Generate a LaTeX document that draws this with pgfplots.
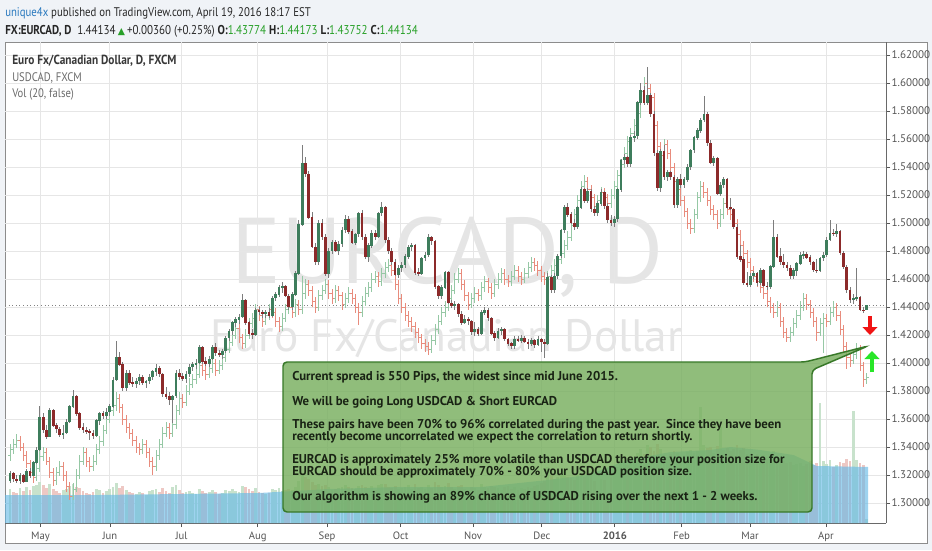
\documentclass[border=0pt]{standalone}
\usepackage{pgfplots}
\pgfplotsset{compat=1.18}
\usepackage{pgfplotstable}
\usepackage{fontspec}
\usetikzlibrary{arrows.meta}
\setmainfont{PT Sans}
\newfontfamily\narrowfont[FakeStretch=0.86]{PT Sans}
\newfontfamily\symfont{DejaVu Sans}

\definecolor{bg}{RGB}{240,243,247}
\definecolor{framegray}{RGB}{140,140,140}
\definecolor{axisgray}{RGB}{105,105,105}
\definecolor{gridgray}{RGB}{230,230,230}
\definecolor{tickgray}{RGB}{85,85,85}
\definecolor{cgreen}{RGB}{62,125,92}
\definecolor{cred}{RGB}{140,42,42}
\definecolor{wick}{RGB}{125,125,125}
\definecolor{usup}{RGB}{150,200,165}
\definecolor{usdn}{RGB}{232,140,125}
\definecolor{volup}{RGB}{200,226,204}
\definecolor{voldn}{RGB}{238,200,196}
\definecolor{volblue}{RGB}{100,185,230}
\definecolor{boxfill}{RGB}{120,175,95}
\definecolor{boxedge}{RGB}{55,120,40}
\definecolor{boxtext}{RGB}{25,35,20}
\definecolor{headblue}{RGB}{40,120,190}
\definecolor{valgreen}{RGB}{40,160,40}
\definecolor{wm}{RGB}{229,229,229}
\definecolor{dotgray}{RGB}{130,130,130}
\definecolor{arrred}{RGB}{240,20,20}
\definecolor{arrgreen}{RGB}{40,230,40}

% EURCAD daily candles: trading day index, open, high, low, close, volume (tens of px)
\pgfplotstableread{
i o h l c v
0 1.3160 1.3230 1.3140 1.3210 3.4
1 1.3210 1.3225 1.3150 1.3170 3.1
2 1.3170 1.3200 1.3140 1.3160 3.0
3 1.3160 1.3215 1.3135 1.3200 3.5
4 1.3200 1.3210 1.3140 1.3155 3.2
5 1.3155 1.3240 1.3150 1.3230 3.6
6 1.3230 1.3250 1.3180 1.3195 3.3
7 1.3195 1.3300 1.3190 1.3290 3.7
8 1.3290 1.3400 1.3280 1.3380 3.8
9 1.3380 1.3690 1.3370 1.3610 4.1
10 1.3610 1.3640 1.3500 1.3520 3.8
11 1.3520 1.3560 1.3460 1.3475 3.5
12 1.3475 1.3680 1.3470 1.3660 3.9
13 1.3660 1.3670 1.3540 1.3555 3.4
14 1.3555 1.3570 1.3500 1.3530 3.2
15 1.3530 1.3545 1.3470 1.3490 3.0
16 1.3490 1.3560 1.3460 1.3500 3.3
17 1.3500 1.3600 1.3490 1.3580 3.4
18 1.3580 1.3700 1.3570 1.3690 3.7
19 1.3690 1.3810 1.3680 1.3760 3.9
20 1.3760 1.3775 1.3620 1.3640 3.6
21 1.3640 1.3650 1.3520 1.3540 3.5
22 1.3540 1.3570 1.3500 1.3520 3.2
23 1.3520 1.3540 1.3490 1.3510 3.0
24 1.3510 1.3530 1.3450 1.3500 2.9
25 1.3500 1.3520 1.3460 1.3480 3.1
26 1.3480 1.3600 1.3470 1.3590 3.4
27 1.3590 1.3650 1.3560 1.3640 3.3
28 1.3640 1.3660 1.3600 1.3620 3.0
29 1.3620 1.3680 1.3600 1.3650 3.2
30 1.3650 1.3710 1.3620 1.3690 3.4
31 1.3690 1.3900 1.3680 1.3880 3.6
32 1.3880 1.4160 1.3870 1.4040 4.0
33 1.4040 1.4080 1.3980 1.3990 3.5
34 1.3990 1.4010 1.3800 1.3820 3.7
35 1.3820 1.3950 1.3800 1.3930 3.3
36 1.3930 1.3950 1.3840 1.3860 3.1
37 1.3860 1.3900 1.3830 1.3850 3.0
38 1.3850 1.3890 1.3820 1.3870 2.9
39 1.3870 1.3920 1.3840 1.3900 3.1
40 1.3900 1.3915 1.3840 1.3860 3.0
41 1.3860 1.3880 1.3820 1.3870 2.8
42 1.3870 1.3920 1.3850 1.3900 3.2
43 1.3900 1.3950 1.3880 1.3940 3.3
44 1.3940 1.3990 1.3910 1.3960 3.4
45 1.3960 1.3980 1.3900 1.3920 3.1
46 1.3920 1.3930 1.3760 1.3780 3.5
47 1.3780 1.3830 1.3740 1.3760 3.2
48 1.3760 1.3790 1.3700 1.3740 3.0
49 1.3740 1.3770 1.3570 1.3765 3.6
50 1.3765 1.3950 1.3750 1.3930 3.8
51 1.3930 1.3960 1.3880 1.3905 3.3
52 1.3905 1.3930 1.3870 1.3890 3.0
53 1.3890 1.3940 1.3860 1.3920 3.1
54 1.3920 1.3990 1.3900 1.3970 3.2
55 1.3970 1.4010 1.3940 1.3990 3.0
56 1.3990 1.4030 1.3960 1.4000 2.9
57 1.4000 1.4130 1.3990 1.4110 3.4
58 1.4110 1.4120 1.3990 1.4010 3.2
59 1.4010 1.4040 1.3980 1.3995 3.0
60 1.3995 1.4050 1.3970 1.4030 3.1
61 1.4030 1.4130 1.4020 1.4110 3.3
62 1.4110 1.4140 1.4050 1.4070 3.1
63 1.4070 1.4090 1.4040 1.4060 2.9
64 1.4060 1.4100 1.4030 1.4085 3.0
65 1.4085 1.4190 1.4070 1.4180 3.3
66 1.4180 1.4240 1.4160 1.4230 3.2
67 1.4230 1.4300 1.4200 1.4290 3.4
68 1.4290 1.4330 1.4260 1.4310 3.2
69 1.4310 1.4350 1.4280 1.4330 3.1
70 1.4330 1.4490 1.4320 1.4450 3.7
71 1.4450 1.4460 1.4270 1.4290 3.6
72 1.4290 1.4300 1.4190 1.4210 3.4
73 1.4210 1.4240 1.4170 1.4200 3.2
74 1.4200 1.4390 1.4190 1.4375 3.5
75 1.4375 1.4400 1.4340 1.4365 3.1
76 1.4365 1.4380 1.4320 1.4350 3.0
77 1.4350 1.4380 1.4320 1.4365 2.9
78 1.4365 1.4390 1.4320 1.4340 3.0
79 1.4340 1.4480 1.4330 1.4465 3.4
80 1.4465 1.4510 1.4440 1.4490 3.3
81 1.4490 1.4560 1.4470 1.4540 3.5
82 1.4540 1.4580 1.4500 1.4550 3.2
83 1.4550 1.4560 1.4470 1.4480 3.3
84 1.4480 1.4490 1.4380 1.4400 3.4
85 1.4400 1.4510 1.4380 1.4490 3.3
86 1.4490 1.4660 1.4480 1.4640 3.6
87 1.4640 1.5020 1.4630 1.4990 4.2
88 1.4990 1.5560 1.4980 1.5430 4.9
89 1.5430 1.5470 1.5330 1.5350 4.6
90 1.5350 1.5370 1.5030 1.5040 4.4
91 1.5040 1.5080 1.4820 1.4830 4.1
92 1.4830 1.4860 1.4700 1.4720 3.8
93 1.4720 1.5020 1.4700 1.5000 3.9
94 1.5000 1.5030 1.4880 1.4900 3.7
95 1.4900 1.4920 1.4620 1.4640 3.8
96 1.4640 1.4820 1.4610 1.4800 3.6
97 1.4800 1.4880 1.4780 1.4860 3.3
98 1.4860 1.4880 1.4790 1.4800 3.4
99 1.4800 1.4870 1.4770 1.4850 3.5
100 1.4850 1.4970 1.4830 1.4950 3.6
101 1.4950 1.5060 1.4930 1.5030 3.8
102 1.5030 1.5050 1.4920 1.4940 3.6
103 1.4940 1.4960 1.4850 1.4860 3.5
104 1.4860 1.4930 1.4840 1.4920 3.4
105 1.4920 1.5080 1.4900 1.5070 3.7
106 1.5070 1.5090 1.4880 1.4900 3.8
107 1.4900 1.4920 1.4740 1.4760 3.6
108 1.4760 1.4860 1.4720 1.4840 3.5
109 1.4840 1.4950 1.4820 1.4930 3.7
110 1.4930 1.4950 1.4880 1.4900 3.3
111 1.4900 1.5080 1.4890 1.5070 3.8
112 1.5070 1.5150 1.5050 1.5110 3.9
113 1.5110 1.5120 1.4860 1.4880 3.9
114 1.4880 1.4900 1.4780 1.4800 3.6
115 1.4800 1.4820 1.4700 1.4720 3.5
116 1.4720 1.4740 1.4620 1.4630 3.7
117 1.4630 1.4700 1.4610 1.4680 3.4
118 1.4680 1.4720 1.4650 1.4700 3.5
119 1.4700 1.4780 1.4680 1.4760 3.6
120 1.4760 1.4840 1.4740 1.4830 3.8
121 1.4830 1.4860 1.4800 1.4840 3.4
122 1.4840 1.4850 1.4630 1.4645 3.9
123 1.4645 1.4680 1.4620 1.4640 3.5
124 1.4640 1.4760 1.4630 1.4750 3.6
125 1.4750 1.4790 1.4730 1.4770 3.4
126 1.4770 1.4920 1.4760 1.4900 3.8
127 1.4900 1.4910 1.4840 1.4870 3.5
128 1.4870 1.4880 1.4530 1.4545 4.1
129 1.4545 1.4560 1.4460 1.4480 3.8
130 1.4480 1.4560 1.4460 1.4540 3.6
131 1.4540 1.4660 1.4530 1.4650 3.7
132 1.4650 1.4660 1.4420 1.4430 4.0
133 1.4430 1.4450 1.4390 1.4410 3.6
134 1.4410 1.4440 1.4380 1.4420 3.4
135 1.4420 1.4430 1.4330 1.4350 3.7
136 1.4350 1.4370 1.4270 1.4290 3.8
137 1.4290 1.4340 1.4280 1.4310 3.4
138 1.4310 1.4330 1.4270 1.4300 3.3
139 1.4300 1.4310 1.4200 1.4220 3.6
140 1.4220 1.4290 1.4190 1.4240 3.5
141 1.4240 1.4260 1.4190 1.4210 3.3
142 1.4210 1.4380 1.4200 1.4360 3.9
143 1.4360 1.4400 1.4340 1.4380 3.6
144 1.4380 1.4390 1.4300 1.4320 3.5
145 1.4320 1.4330 1.4200 1.4210 3.7
146 1.4210 1.4230 1.4160 1.4180 3.6
147 1.4180 1.4250 1.4170 1.4230 3.5
148 1.4230 1.4260 1.4200 1.4240 3.3
149 1.4240 1.4250 1.4160 1.4170 3.6
150 1.4170 1.4180 1.4120 1.4140 3.7
151 1.4140 1.4150 1.4100 1.4120 3.4
152 1.4120 1.4190 1.4100 1.4170 3.6
153 1.4170 1.4190 1.4150 1.4160 3.3
154 1.4160 1.4200 1.4140 1.4180 3.5
155 1.4180 1.4190 1.4140 1.4150 3.4
156 1.4150 1.4170 1.4100 1.4135 3.6
157 1.4135 1.4180 1.4120 1.4160 3.5
158 1.4160 1.4170 1.4110 1.4130 3.7
159 1.4130 1.4190 1.4120 1.4170 3.8
160 1.4170 1.4180 1.4080 1.4150 4.0
161 1.4150 1.4170 1.4036 1.4140 4.2
162 1.4140 1.4640 1.4130 1.4610 5.6
163 1.4610 1.4630 1.4500 1.4520 4.8
164 1.4520 1.4640 1.4500 1.4620 4.4
165 1.4620 1.4780 1.4600 1.4765 4.6
166 1.4765 1.4960 1.4750 1.4950 4.9
167 1.4950 1.5130 1.4930 1.5110 5.2
168 1.5110 1.5140 1.5040 1.5060 4.6
169 1.5060 1.5080 1.4990 1.5000 4.5
170 1.5000 1.5030 1.4950 1.4970 4.3
171 1.4970 1.5120 1.4960 1.5110 4.8
172 1.5110 1.5260 1.5100 1.5240 5.0
173 1.5240 1.5250 1.5140 1.5160 4.6
174 1.5160 1.5250 1.5140 1.5230 4.7
175 1.5230 1.5240 1.5080 1.5100 4.9
176 1.5100 1.5120 1.5050 1.5070 4.2
177 1.5070 1.5160 1.5050 1.5140 3.1
178 1.5140 1.5240 1.5120 1.5220 4.4
179 1.5220 1.5230 1.5100 1.5120 4.3
180 1.5120 1.5140 1.5000 1.5020 2.6
181 1.5020 1.5060 1.4980 1.5000 4.6
182 1.5000 1.5050 1.4970 1.5030 5.2
183 1.5030 1.5250 1.5010 1.5240 5.6
184 1.5240 1.5460 1.5220 1.5450 6.3
185 1.5450 1.5490 1.5420 1.5470 6.0
186 1.5470 1.5480 1.5400 1.5420 5.8
187 1.5420 1.5630 1.5400 1.5610 6.6
188 1.5610 1.5660 1.5580 1.5620 6.2
189 1.5620 1.5870 1.5600 1.5860 7.0
190 1.5860 1.6000 1.5840 1.5950 7.4
191 1.5950 1.5980 1.5840 1.5860 6.9
192 1.5860 1.6114 1.5840 1.5910 7.8
193 1.5910 1.5930 1.5760 1.5780 7.6
194 1.5780 1.5800 1.5480 1.5500 7.2
195 1.5500 1.5520 1.5230 1.5250 7.9
196 1.5250 1.5530 1.5220 1.5510 7.4
197 1.5510 1.5560 1.5310 1.5330 6.8
198 1.5330 1.5380 1.5300 1.5360 6.6
199 1.5360 1.5370 1.5310 1.5330 6.9
200 1.5330 1.5340 1.5110 1.5130 7.2
201 1.5130 1.5330 1.5110 1.5310 7.0
202 1.5310 1.5350 1.5250 1.5270 6.7
203 1.5270 1.5330 1.5250 1.5310 6.8
204 1.5310 1.5420 1.5290 1.5400 7.1
205 1.5400 1.5530 1.5380 1.5520 7.3
206 1.5520 1.5620 1.5500 1.5610 7.0
207 1.5610 1.5680 1.5590 1.5660 7.2
208 1.5660 1.5750 1.5640 1.5735 11.6
209 1.5735 1.5910 1.5720 1.5780 7.8
210 1.5780 1.5790 1.5550 1.5570 7.5
211 1.5570 1.5590 1.5420 1.5430 7.6
212 1.5430 1.5480 1.5410 1.5460 7.0
213 1.5460 1.5470 1.5200 1.5210 7.7
214 1.5210 1.5290 1.5190 1.5270 9.6
215 1.5270 1.5330 1.5250 1.5310 7.3
216 1.5310 1.5320 1.5100 1.5110 7.5
217 1.5110 1.5180 1.5090 1.5100 7.2
218 1.5100 1.5110 1.4960 1.4970 7.4
219 1.4970 1.4990 1.4740 1.4760 7.8
220 1.4760 1.4840 1.4720 1.4740 7.3
221 1.4740 1.4760 1.4560 1.4570 7.5
222 1.4570 1.4650 1.4540 1.4560 6.9
223 1.4560 1.4640 1.4540 1.4620 6.8
224 1.4620 1.4660 1.4600 1.4640 6.6
225 1.4640 1.4650 1.4550 1.4570 6.9
226 1.4570 1.4680 1.4560 1.4660 6.5
227 1.4660 1.4670 1.4540 1.4550 6.8
228 1.4550 1.4580 1.4520 1.4545 6.4
229 1.4545 1.4700 1.4530 1.4690 6.7
230 1.4690 1.5020 1.4680 1.4900 7.2
231 1.4900 1.4920 1.4750 1.4760 6.6
232 1.4760 1.4820 1.4700 1.4720 6.3
233 1.4720 1.4780 1.4680 1.4700 6.2
234 1.4700 1.4720 1.4660 1.4680 6.0
235 1.4680 1.4700 1.4600 1.4620 6.1
236 1.4620 1.4680 1.4600 1.4660 5.8
237 1.4660 1.4720 1.4620 1.4710 5.9
238 1.4710 1.4790 1.4700 1.4770 6.0
239 1.4770 1.4800 1.4740 1.4780 5.7
240 1.4780 1.4790 1.4740 1.4755 5.9
241 1.4755 1.4770 1.4700 1.4720 6.2
242 1.4720 1.4730 1.4650 1.4665 5.8
243 1.4665 1.4740 1.4640 1.4660 6.0
244 1.4660 1.4760 1.4650 1.4750 12.0
245 1.4750 1.4790 1.4730 1.4770 6.2
246 1.4770 1.4900 1.4760 1.4880 5.9
247 1.4880 1.5020 1.4870 1.4930 6.3
248 1.4930 1.4960 1.4910 1.4925 5.6
249 1.4925 1.4990 1.4900 1.4940 5.8
250 1.4940 1.4950 1.4770 1.4785 6.1
251 1.4785 1.4800 1.4670 1.4685 6.0
252 1.4685 1.4700 1.4500 1.4520 6.4
253 1.4520 1.4540 1.4430 1.4450 6.2
254 1.4450 1.4490 1.4420 1.4460 11.2
255 1.4460 1.4680 1.4440 1.4470 6.3
256 1.4470 1.4480 1.4370 1.4380 6.0
257 1.4380 1.4400 1.4360 1.4377 5.8
258 1.43774 1.44173 1.43752 1.44134 0.4
}\eurcad

% USDCAD overlay bars, read off in the price scale of the chart
\pgfplotstableread{
i o h l c
0 1.334 1.342 1.330 1.338
1 1.338 1.346 1.335 1.342
2 1.342 1.349 1.339 1.345
3 1.345 1.348 1.337 1.340
4 1.340 1.343 1.330 1.334
5 1.334 1.337 1.325 1.328
6 1.328 1.331 1.318 1.322
7 1.322 1.326 1.314 1.318
8 1.318 1.329 1.316 1.325
9 1.325 1.337 1.322 1.333
10 1.333 1.340 1.330 1.336
11 1.336 1.339 1.327 1.330
12 1.330 1.333 1.318 1.322
13 1.322 1.325 1.312 1.316
14 1.316 1.326 1.313 1.322
15 1.322 1.330 1.319 1.326
16 1.326 1.329 1.316 1.320
17 1.320 1.323 1.308 1.312
18 1.312 1.315 1.302 1.305
19 1.305 1.314 1.302 1.310
20 1.310 1.324 1.308 1.320
21 1.320 1.334 1.317 1.330
22 1.330 1.340 1.327 1.336
23 1.336 1.339 1.326 1.330
24 1.330 1.333 1.322 1.326
25 1.326 1.334 1.323 1.330
26 1.330 1.342 1.327 1.338
27 1.338 1.348 1.335 1.344
28 1.344 1.356 1.341 1.352
29 1.352 1.364 1.349 1.360
30 1.360 1.370 1.357 1.366
31 1.366 1.374 1.362 1.370
32 1.370 1.379 1.366 1.375
33 1.375 1.378 1.364 1.368
34 1.368 1.371 1.356 1.360
35 1.360 1.363 1.350 1.354
36 1.354 1.357 1.346 1.350
37 1.350 1.353 1.341 1.345
38 1.345 1.348 1.336 1.340
39 1.340 1.343 1.334 1.338
40 1.338 1.346 1.335 1.342
41 1.342 1.345 1.332 1.336
42 1.336 1.339 1.326 1.330
43 1.330 1.333 1.320 1.326
44 1.326 1.338 1.323 1.334
45 1.334 1.346 1.331 1.342
46 1.342 1.354 1.339 1.350
47 1.350 1.358 1.347 1.354
48 1.354 1.357 1.346 1.350
49 1.350 1.360 1.347 1.356
50 1.356 1.370 1.353 1.366
51 1.366 1.379 1.363 1.375
52 1.375 1.378 1.368 1.372
53 1.372 1.384 1.369 1.380
54 1.380 1.389 1.377 1.385
55 1.385 1.392 1.382 1.388
56 1.388 1.396 1.385 1.392
57 1.392 1.402 1.389 1.398
58 1.398 1.401 1.391 1.395
59 1.395 1.398 1.388 1.392
60 1.392 1.400 1.389 1.396
61 1.396 1.404 1.393 1.400
62 1.400 1.403 1.391 1.395
63 1.395 1.402 1.392 1.398
64 1.398 1.408 1.395 1.404
65 1.404 1.414 1.401 1.410
66 1.410 1.419 1.407 1.415
67 1.415 1.424 1.412 1.420
68 1.420 1.429 1.417 1.425
69 1.425 1.428 1.414 1.418
70 1.418 1.421 1.410 1.414
71 1.414 1.424 1.411 1.420
72 1.420 1.432 1.417 1.428
73 1.428 1.436 1.425 1.432
74 1.432 1.442 1.429 1.438
75 1.438 1.441 1.430 1.434
76 1.434 1.437 1.426 1.430
77 1.430 1.438 1.427 1.434
78 1.434 1.442 1.431 1.438
79 1.438 1.441 1.432 1.436
80 1.436 1.439 1.426 1.430
81 1.430 1.433 1.422 1.426
82 1.426 1.436 1.423 1.432
83 1.432 1.442 1.429 1.438
84 1.438 1.444 1.435 1.440
85 1.440 1.443 1.432 1.436
86 1.436 1.446 1.433 1.442
87 1.442 1.445 1.434 1.438
88 1.438 1.462 1.435 1.450
89 1.450 1.460 1.446 1.456
90 1.456 1.459 1.448 1.452
91 1.452 1.455 1.440 1.444
92 1.444 1.447 1.436 1.440
93 1.440 1.452 1.437 1.448
94 1.448 1.456 1.445 1.452
95 1.452 1.460 1.449 1.456
96 1.456 1.459 1.446 1.450
97 1.450 1.453 1.442 1.446
98 1.446 1.456 1.443 1.452
99 1.452 1.455 1.444 1.448
100 1.448 1.451 1.438 1.442
101 1.442 1.450 1.439 1.446
102 1.446 1.454 1.443 1.450
103 1.450 1.453 1.442 1.446
104 1.446 1.449 1.436 1.440
105 1.440 1.443 1.427 1.436
106 1.436 1.448 1.433 1.444
107 1.444 1.454 1.441 1.450
108 1.450 1.458 1.447 1.454
109 1.454 1.464 1.451 1.460
110 1.460 1.466 1.457 1.462
111 1.462 1.465 1.454 1.458
112 1.458 1.468 1.455 1.464
113 1.464 1.472 1.461 1.468
114 1.468 1.474 1.465 1.470
115 1.470 1.473 1.462 1.466
116 1.466 1.469 1.452 1.456
117 1.456 1.459 1.442 1.446
118 1.446 1.449 1.436 1.440
119 1.440 1.443 1.430 1.434
120 1.434 1.437 1.426 1.430
121 1.430 1.433 1.422 1.426
122 1.426 1.429 1.418 1.422
123 1.422 1.425 1.414 1.418
124 1.418 1.421 1.410 1.414
125 1.414 1.417 1.408 1.412
126 1.412 1.415 1.406 1.410
127 1.410 1.420 1.407 1.416
128 1.416 1.428 1.413 1.424
129 1.424 1.434 1.421 1.430
130 1.430 1.440 1.427 1.436
131 1.436 1.444 1.433 1.440
132 1.440 1.450 1.437 1.446
133 1.446 1.456 1.443 1.452
134 1.452 1.464 1.449 1.460
135 1.460 1.468 1.457 1.464
136 1.464 1.467 1.452 1.456
137 1.456 1.459 1.444 1.448
138 1.448 1.451 1.438 1.442
139 1.442 1.450 1.439 1.446
140 1.446 1.454 1.443 1.450
141 1.450 1.453 1.444 1.448
142 1.448 1.458 1.445 1.454
143 1.454 1.462 1.451 1.458
144 1.458 1.461 1.450 1.454
145 1.454 1.457 1.446 1.450
146 1.450 1.460 1.447 1.456
147 1.456 1.464 1.453 1.460
148 1.460 1.468 1.457 1.464
149 1.464 1.467 1.456 1.460
150 1.460 1.463 1.454 1.458
151 1.458 1.466 1.455 1.462
152 1.462 1.470 1.459 1.466
153 1.466 1.469 1.458 1.462
154 1.462 1.465 1.456 1.460
155 1.460 1.468 1.457 1.464
156 1.464 1.472 1.461 1.468
157 1.468 1.476 1.465 1.472
158 1.472 1.475 1.466 1.470
159 1.470 1.473 1.462 1.466
160 1.466 1.469 1.458 1.462
161 1.462 1.465 1.456 1.460
162 1.460 1.466 1.452 1.462
163 1.462 1.470 1.459 1.466
164 1.466 1.474 1.463 1.470
165 1.470 1.478 1.467 1.474
166 1.474 1.482 1.471 1.478
167 1.478 1.488 1.475 1.484
168 1.484 1.494 1.481 1.490
169 1.490 1.502 1.487 1.498
170 1.498 1.510 1.495 1.506
171 1.506 1.520 1.503 1.516
172 1.516 1.530 1.513 1.526
173 1.526 1.534 1.523 1.530
174 1.530 1.533 1.520 1.524
175 1.524 1.527 1.514 1.518
176 1.518 1.521 1.508 1.512
177 1.512 1.520 1.509 1.516
178 1.516 1.526 1.513 1.522
179 1.522 1.525 1.514 1.518
180 1.518 1.521 1.510 1.514
181 1.514 1.524 1.511 1.520
182 1.520 1.530 1.517 1.526
183 1.526 1.538 1.523 1.534
184 1.534 1.546 1.531 1.542
185 1.542 1.554 1.539 1.550
186 1.550 1.562 1.547 1.558
187 1.558 1.568 1.555 1.564
188 1.564 1.574 1.561 1.570
189 1.570 1.582 1.567 1.578
190 1.578 1.598 1.575 1.594
191 1.594 1.604 1.591 1.600
192 1.600 1.603 1.592 1.596
193 1.596 1.599 1.586 1.590
194 1.590 1.593 1.566 1.570
195 1.570 1.573 1.551 1.555
196 1.555 1.558 1.544 1.548
197 1.548 1.560 1.545 1.556
198 1.556 1.559 1.546 1.550
199 1.550 1.553 1.536 1.540
200 1.540 1.543 1.526 1.530
201 1.530 1.533 1.520 1.524
202 1.524 1.527 1.512 1.516
203 1.516 1.519 1.504 1.508
204 1.508 1.511 1.496 1.500
205 1.500 1.503 1.492 1.496
206 1.496 1.510 1.493 1.506
207 1.506 1.522 1.503 1.518
208 1.518 1.530 1.515 1.526
209 1.526 1.529 1.518 1.522
210 1.522 1.525 1.512 1.516
211 1.516 1.519 1.506 1.510
212 1.510 1.513 1.502 1.506
213 1.506 1.509 1.496 1.500
214 1.500 1.510 1.497 1.506
215 1.506 1.518 1.503 1.514
216 1.514 1.517 1.506 1.510
217 1.510 1.513 1.502 1.506
218 1.506 1.509 1.496 1.500
219 1.500 1.503 1.488 1.492
220 1.492 1.495 1.480 1.484
221 1.484 1.487 1.474 1.478
222 1.478 1.481 1.468 1.472
223 1.472 1.475 1.462 1.466
224 1.466 1.469 1.458 1.462
225 1.462 1.465 1.454 1.458
226 1.458 1.461 1.450 1.454
227 1.454 1.457 1.446 1.450
228 1.450 1.453 1.440 1.444
229 1.444 1.447 1.436 1.440
230 1.440 1.443 1.432 1.436
231 1.436 1.444 1.433 1.440
232 1.440 1.443 1.426 1.430
233 1.430 1.433 1.418 1.422
234 1.422 1.425 1.415 1.418
235 1.418 1.426 1.415 1.422
236 1.422 1.432 1.419 1.428
237 1.428 1.438 1.425 1.434
238 1.434 1.444 1.431 1.440
239 1.440 1.450 1.437 1.446
240 1.446 1.449 1.438 1.442
241 1.442 1.445 1.432 1.436
242 1.436 1.439 1.426 1.430
243 1.430 1.433 1.416 1.422
244 1.422 1.432 1.419 1.428
245 1.428 1.436 1.407 1.432
246 1.432 1.435 1.426 1.430
247 1.430 1.440 1.427 1.436
248 1.436 1.444 1.433 1.440
249 1.440 1.443 1.430 1.434
250 1.434 1.437 1.420 1.424
251 1.424 1.427 1.408 1.412
252 1.412 1.415 1.396 1.404
253 1.404 1.407 1.397 1.402
254 1.402 1.410 1.399 1.406
255 1.406 1.414 1.403 1.410
256 1.410 1.413 1.394 1.398
257 1.398 1.401 1.383 1.388
258 1.388 1.393 1.385 1.390
}\usdcad

% 20-day volume average, read at a few points
\pgfplotstableread{
i m
-1.5 2.8
27 2.8
51 2.9
75 3.0
96 3.4
117 3.6
142 3.6
162 4.3
174 4.8
186 6.3
199 7.1
211 7.3
217 7.6
226 7.3
236 6.8
243 5.7
258.5 5.6
}\volma

\pgfplotsset{
  base/.style={at={(3.75pt,-392.25pt)}, anchor=south west, scale only axis,
    width=660.75pt, height=360.75pt, xmin=-1.5, xmax=263.86},
  price/.style={base, ymin=1.28571, ymax=1.62929},
  up/.style={restrict expr to domain={\thisrow{c}-\thisrow{o}}{0:1}},
  down/.style={restrict expr to domain={\thisrow{c}-\thisrow{o}}{-1:0}},
  nomark/.style={draw=none, mark=none},
}

\begin{document}
\begin{tikzpicture}
\begin{scope}[x=0.75pt,y=-0.75pt]
  \fill[bg] (0,0) rectangle (932,550);
  \filldraw[fill=white, draw=framegray, line width=0.75pt] (5,42) rectangle (927,543);
  \node[anchor=base, inner sep=0, text=wm,
        font=\fontsize{70}{70}\selectfont] at (447.5,283) {EURCAD, D};
  \node[anchor=base, inner sep=0, text=wm,
        font=\fontsize{34}{34}\selectfont] at (446.5,351) {Euro Fx/Canadian Dollar};
\end{scope}

% frame axis: grid, ticks and labels
\begin{axis}[price,
  axis x line*=bottom, axis y line*=right,
  axis line style={draw=axisgray, line width=0.75pt},
  xtick={9.2,30.1,51.7,74.6,95.5,117.7,139.5,160.2,182.2,202.3,222.9,245.8},
  xticklabels={May,Jun,Jul,Aug,Sep,Oct,Nov,Dec,\textbf{2016},Feb,Mar,Apr},
  ytick={1.30,1.32,1.34,1.36,1.38,1.40,1.42,1.44,1.46,1.48,1.50,1.52,1.54,1.56,1.58,1.60,1.62},
  grid=major, major grid style={draw=gridgray, line width=0.75pt},
  tick style={draw=tickgray, line width=0.6pt}, major tick length=3pt, tick align=outside,
  xticklabel style={font=\fontsize{8}{9}\selectfont, text=tickgray},
  yticklabel style={font=\fontsize{8.3}{9}\selectfont, text=tickgray, inner sep=1pt,
    /pgf/number format/.cd, fixed, fixed zerofill, precision=5},
  /pgf/number format/assume math mode=true,
]
\end{axis}

% volume
\begin{axis}[base, hide axis, ymin=0, ymax=48.1]
  \addplot[ycomb, mark=none, line width=2.1pt, draw=volup, up] table[x=i, y=v] {\eurcad};
  \addplot[ycomb, mark=none, line width=2.1pt, draw=voldn, down] table[x=i, y=v] {\eurcad};
  \addplot[fill=volblue, fill opacity=0.62, draw=none] table[x=i, y=m] {\volma} \closedcycle;
\end{axis}

% prices
\begin{axis}[price, hide axis]
  \addplot[dotgray, dotted, line width=0.7pt] coordinates {(-1.5,1.44134) (263.86,1.44134)};
  % USDCAD OHLC bars
  \addplot[nomark, up, error bars/.cd, y dir=both, y explicit, error mark=none,
    error bar style={draw=usup, line width=0.6pt}]
    table[x=i, y expr={(\thisrow{h}+\thisrow{l})/2}, y error expr={(\thisrow{h}-\thisrow{l})/2}] {\usdcad};
  \addplot[nomark, down, error bars/.cd, y dir=both, y explicit, error mark=none,
    error bar style={draw=usdn, line width=0.6pt}]
    table[x=i, y expr={(\thisrow{h}+\thisrow{l})/2}, y error expr={(\thisrow{h}-\thisrow{l})/2}] {\usdcad};
  \addplot[nomark, up, error bars/.cd, x dir=minus, x fixed=0.6, error mark=none,
    error bar style={draw=usup, line width=0.6pt}] table[x=i, y=o] {\usdcad};
  \addplot[nomark, up, error bars/.cd, x dir=plus, x fixed=0.6, error mark=none,
    error bar style={draw=usup, line width=0.6pt}] table[x=i, y=c] {\usdcad};
  \addplot[nomark, down, error bars/.cd, x dir=minus, x fixed=0.6, error mark=none,
    error bar style={draw=usdn, line width=0.6pt}] table[x=i, y=o] {\usdcad};
  \addplot[nomark, down, error bars/.cd, x dir=plus, x fixed=0.6, error mark=none,
    error bar style={draw=usdn, line width=0.6pt}] table[x=i, y=c] {\usdcad};
  % EURCAD candles
  \addplot[nomark, error bars/.cd, y dir=both, y explicit, error mark=none,
    error bar style={draw=wick, line width=0.55pt}]
    table[x=i, y expr={(\thisrow{h}+\thisrow{l})/2}, y error expr={(\thisrow{h}-\thisrow{l})/2}] {\eurcad};
  \addplot[nomark, up, error bars/.cd, y dir=both, y explicit, error mark=none,
    error bar style={draw=cgreen, line width=2.05pt}]
    table[x=i, y expr={(\thisrow{o}+\thisrow{c})/2}, y error expr={abs(\thisrow{c}-\thisrow{o})/2+0.0002}] {\eurcad};
  \addplot[nomark, down, error bars/.cd, y dir=both, y explicit, error mark=none,
    error bar style={draw=cred, line width=2.05pt}]
    table[x=i, y expr={(\thisrow{o}+\thisrow{c})/2}, y error expr={abs(\thisrow{c}-\thisrow{o})/2+0.0002}] {\eurcad};
\end{axis}

\begin{scope}[x=0.75pt,y=-0.75pt]
  % legend lines
  \node[anchor=base west, inner sep=0, text=black!78, font=\narrowfont\bfseries\fontsize{9.9}{11}\selectfont]
    at (12,64) {Euro Fx/Canadian Dollar, D, FXCM};
  \node[anchor=base west, inner sep=0, text=black!58, font=\narrowfont\fontsize{9.3}{10}\selectfont]
    at (12,81) {USDCAD, FXCM};
  \node[anchor=base west, inner sep=0, text=black!58, font=\narrowfont\fontsize{9.3}{10}\selectfont]
    at (12,97) {Vol (20, false)};
  % header
  \node[anchor=base west, inner sep=0, text=black!85, font=\narrowfont\fontsize{9.4}{10}\selectfont]
    at (5,16.7) {\textcolor{headblue}{unique4x} published on TradingView.com, April 19, 2016 18:17 EST};
  \node[anchor=base west, inner sep=0, text=black!85, font=\narrowfont\fontsize{9.6}{10}\selectfont]
    at (5,34) {\textbf{FX:EURCAD, D}\ \ 1.44134\,\textcolor{valgreen}{\symfont\fontsize{7}{8}\selectfont ▲}\,+0.00360 (+0.25\%)
      \textbf{O:}\textcolor{valgreen}{1.43774} \textbf{H:}\textcolor{valgreen}{1.44173}
      \textbf{L:}\textcolor{valgreen}{1.43752} \textbf{C:}\textcolor{valgreen}{1.44134}};
  % callout
  \draw[rounded corners=3pt, fill=boxfill, fill opacity=0.82, draw=boxedge, line width=1.1pt]
    (283,362) -- (805,362) -- (868,346) -- (812,370) -- (812,512) -- (283,512) -- cycle;
  \begin{scope}[every node/.style={anchor=base west, inner sep=0, text=boxtext,
      font=\bfseries\fontsize{9.6}{10}\selectfont}]
    \node at (292,380.5) {Current spread is 550 Pips, the widest since mid June 2015.};
    \node at (292,405.5) {We will be going Long USDCAD \& Short EURCAD};
    \node at (292,428.5) {These pairs have been 70\% to 96\% correlated during the past year.\ \ Since they have been};
    \node at (292,440.5) {recently become uncorrelated we expect the correlation to return shortly.};
    \node at (292,463.5) {EURCAD is approximately 25\% more volatile than USDCAD therefore your position size for};
    \node at (292,475.5) {EURCAD should be approximately 70\% - 80\% your USDCAD position size.};
    \node at (292,500) {Our algorithm is showing an 89\% chance of USDCAD rising over the next 1 - 2 weeks.};
  \end{scope}
  % arrows
  \draw[arrred, line width=2.8pt, -{Triangle[length=6pt,width=11pt]}] (870,316) -- (870,335);
  \draw[arrgreen, line width=2.8pt, -{Triangle[length=6pt,width=11pt]}] (872,372) -- (872,351);
  \pgfresetboundingbox
  \useasboundingbox (0,0) rectangle (932,550);
\end{scope}
\end{tikzpicture}
\end{document}
